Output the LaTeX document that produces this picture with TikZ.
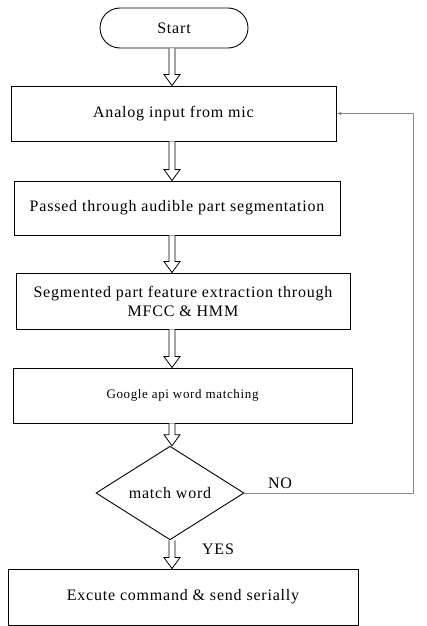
\documentclass[tikz,border=0pt]{standalone}
\usepackage{fontspec}
\setmainfont{Liberation Serif}[LetterSpace=5]
\usetikzlibrary{shapes.geometric,shapes.misc,calc,arrows.meta}
\tikzset{
  txt/.style={font=\fontsize{16}{19}\selectfont},
  box/.style={draw, line width=0.9pt, rectangle, inner sep=0pt, txt, align=center},
  startbox/.style={draw, line width=0.9pt, rounded rectangle, inner sep=0pt, minimum width=148pt, minimum height=40pt, txt},
  decision/.style={draw, line width=0.9pt, diamond, inner sep=0pt, minimum width=148pt, minimum height=70pt, txt},
  hollow/.style={draw, line width=0.8pt, fill=white},
  feedback/.style={draw=gray!90, line width=0.9pt, -{Latex[length=5pt,width=4pt]}},
  lbl/.style={txt, inner sep=0pt}
}
\newcommand\hollowarr[2]{\draw[hollow] let \p1=(#1.south), \p2=(#2.north) in
  (169pt,\y1) -- (169pt,\y2+11pt) -- (164pt,\y2+11pt) -- (172pt,\y2) -- (180pt,\y2+11pt) -- (175pt,\y2+11pt) -- (175pt,\y1);}
\begin{document}
\begin{tikzpicture}[x=1pt,y=-1pt]
\useasboundingbox (0,0) rectangle (427,626);
\node[startbox] (start) at (174,28) {Start};
\node[box, minimum width=325pt, minimum height=55pt] (b1) at (173.5,113.5) {Analog input from mic};
\node[box, minimum width=326pt, minimum height=54pt] (b2) at (177,208) {Passed through audible part segmentation};
\node[box, minimum width=334pt, minimum height=56pt] (b3) at (183,301) {Segmented part feature extraction through\\MFCC \& HMM};
\node[box, minimum width=339pt, minimum height=55pt, font=\fontsize{13}{15}\selectfont] (b4) at (182.5,395.5) {Google api word matching};
\node[decision] (d) at (170,493) {match word};
\node[box, minimum width=350pt, minimum height=56pt] (b5) at (183,597) {Excute command \& send serially};
\hollowarr{start}{b1}
\hollowarr{b1}{b2}
\hollowarr{b2}{b3}
\hollowarr{b3}{b4}
\hollowarr{b4}{d}
\hollowarr{d}{b5}
\coordinate (c1) at (413,493);
\coordinate (c2) at (413,113.5);
\draw[feedback] (d.east) -- (c1) -- (c2) -- (b1.east);
\node[lbl] (no) at (280,483) {NO};
\node[lbl] (yes) at (218,549) {YES};
\end{tikzpicture}
\end{document}
